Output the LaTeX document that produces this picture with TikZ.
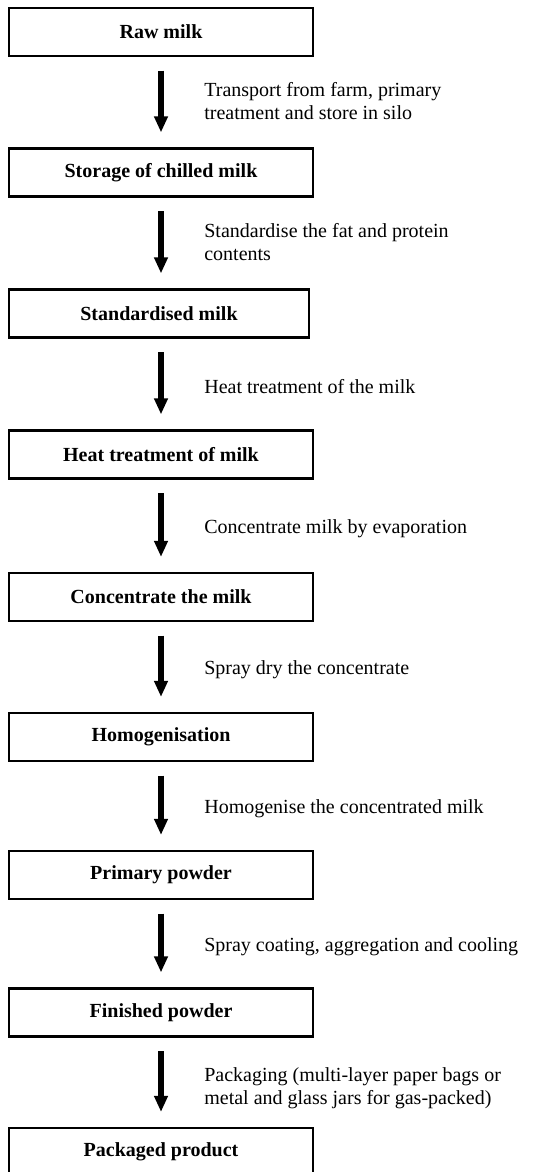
\documentclass[tikz,border=0pt]{standalone}
\usepackage{fontspec}
\setmainfont{Liberation Serif}
\usetikzlibrary{arrows.meta}
\begin{document}
\begin{tikzpicture}[x=0.6pt,y=-0.6pt,
  box/.style={draw=black,line width=1.3pt,rectangle,minimum width=182.4pt,minimum height=28.8pt,inner sep=0pt,font=\fontsize{12}{13.8}\selectfont\bfseries},
  lab/.style={anchor=base west,inner sep=0pt,align=left,font=\fontsize{12}{13.8}\selectfont},
  flow/.style={line width=3.4pt,-{Triangle[length=9.6pt,width=7.8pt]},shorten <=8.1pt,shorten >=9pt}]
\useasboundingbox (0,0) rectangle (552,1172);
\clip (0,0) rectangle (552,1172);
\fill[white] (0,0) rectangle (552,1172);
\node[box] (s1) at (161,32) {Raw milk};
\node[box] (s2) at (161,172.5) {Storage of chilled milk};
\node[box,minimum width=180pt] (s3) at (159,313.5) {Standardised milk};
\node[box] (s4) at (161,454.5) {Heat treatment of milk};
\node[box] (s5) at (161,597) {Concentrate the milk};
\node[box] (s6) at (161,737) {Homogenisation};
\node[box] (s7) at (161,875) {Primary powder};
\node[box] (s8) at (161,1012.5) {Finished powder};
\node[box] (s9) at (161,1152) {Packaged product};
\draw[flow] (s1.south) -- (s2.north);
\draw[flow] (s2.south) -- (s2.south |- s3.north);
\draw[flow] (s4.north |- s3.south) -- (s4.north);
\draw[flow] (s4.south) -- (s5.north);
\draw[flow] (s5.south) -- (s6.north);
\draw[flow] (s6.south) -- (s7.north);
\draw[flow] (s7.south) -- (s8.north);
\draw[flow] (s8.south) -- (s9.north);
\node[lab] (l1) at (204,119.5) {Transport from farm, primary\\treatment and store in silo};
\node[lab] (l2) at (204,260.5) {Standardise the fat and protein\\contents};
\node[lab] (l3) at (204,393) {Heat treatment of the milk};
\node[lab] (l4) at (204,533) {Concentrate milk by evaporation};
\node[lab] (l5) at (204,674) {Spray dry the concentrate};
\node[lab] (l6) at (204,813) {Homogenise the concentrated milk};
\node[lab] (l7) at (204,951) {Spray coating, aggregation and cooling};
\node[lab] (l8) at (204,1104) {Packaging (multi-layer paper bags or\\metal and glass jars for gas-packed)};
\end{tikzpicture}
\end{document}
